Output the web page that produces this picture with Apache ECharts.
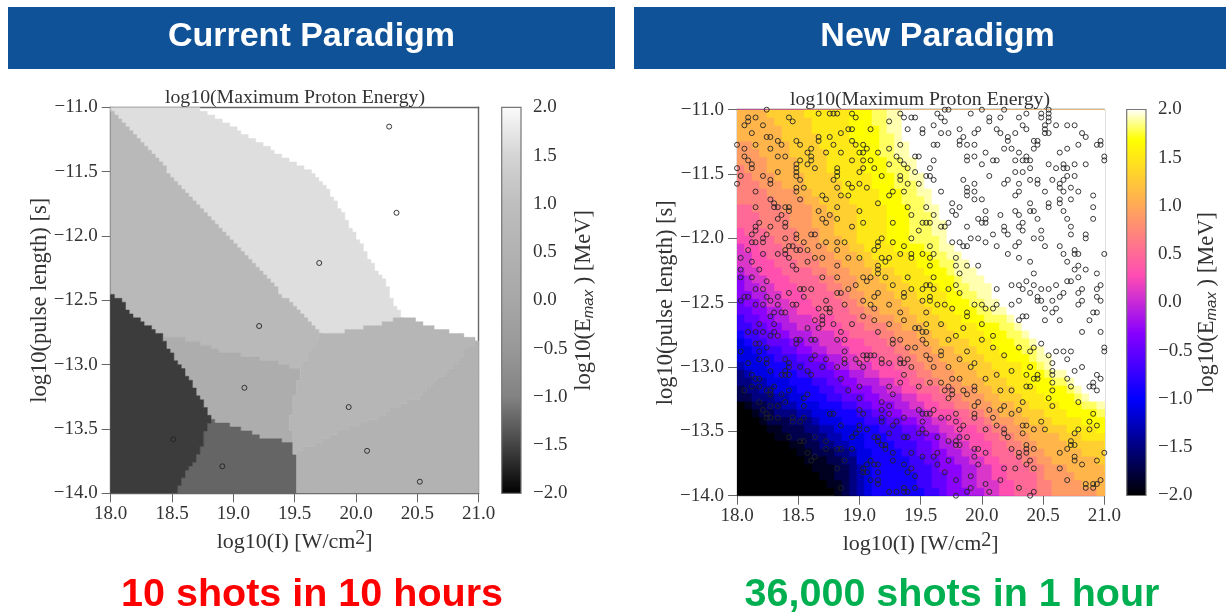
<!DOCTYPE html>
<html><head><meta charset="utf-8">
<style>html,body{margin:0;padding:0;background:#fff}#c{width:1226px;height:615px}</style>
<script src="https://cdn.jsdelivr.net/npm/echarts@6/dist/echarts.min.js"></script>
</head><body><div id="c"></div>
<script>
const xTicksMin=18, xTicksMax=21, yTicksMin=-14, yTicksMax=-11;
const chartTitle='log10(Maximum Proton Energy)';
const yName='log10(pulse length) [s]';
const xName='log10(I) [W/cm{sup|2}]';
const barName='{a|log10(E}{sub|max}{a| ) [MeV]}';

// --- Current paradigm: 10 shots
const oldShotX=[20.27,20.33,19.70,19.21,19.09,18.51,18.91,19.94,20.09,20.52];
const oldShotY=[-11.15,-11.82,-12.21,-12.70,-13.18,-13.58,-13.79,-13.33,-13.67,-13.91];
const regionColors=['#dedede','#b9b9b9','#adadad','#656565','#3c3c3c','#b6b6b6','#b2b2b2'];
const regionLight=[[18,-11],[18.74,-11],[19.54,-11.45],[19.68,-11.53],[19.76,-11.62],[20.01,-12.01],[20.20,-12.29],[20.33,-12.55],[20.40,-12.64],[20.32,-12.65],[20.17,-12.69],[19.89,-12.75],[19.73,-12.77]];
const regionMid=[[18,-11],[19.73,-12.77],[19.56,-13.04],[19.27,-12.96],[18.89,-12.89],[18.66,-12.81],[18.42,-12.77],[18.24,-12.65],[18.08,-12.50],[18,-12.44]];
const regionCentre=[[18.42,-12.77],[18.66,-12.81],[18.89,-12.89],[19.27,-12.96],[19.56,-13.04],[19.50,-13.25],[19.46,-13.45],[19.48,-13.61],[19.40,-13.59],[19.19,-13.55],[19.03,-13.48],[18.83,-13.43],[18.73,-13.25],[18.62,-13.07],[18.48,-12.89]];
const regionDarker=[[18.83,-13.43],[19.03,-13.48],[19.19,-13.55],[19.40,-13.59],[19.48,-13.61],[19.50,-13.70],[19.53,-13.84],[19.53,-14],[18.54,-14],[18.62,-13.84],[18.73,-13.69],[18.78,-13.52]];
const regionDark=[[18,-12.44],[18.08,-12.50],[18.24,-12.65],[18.42,-12.77],[18.48,-12.89],[18.62,-13.07],[18.73,-13.25],[18.83,-13.43],[18.78,-13.52],[18.73,-13.69],[18.62,-13.84],[18.54,-14],[18,-14]];
const regionUpperRight=[[19.73,-12.77],[19.89,-12.75],[20.17,-12.69],[20.32,-12.65],[20.48,-12.65],[20.58,-12.69],[20.70,-12.73],[20.82,-12.75],[20.95,-12.79],[21,-12.81],[20.81,-12.99],[20.55,-13.25],[20.17,-13.41],[19.87,-13.53],[19.50,-13.70],[19.48,-13.61],[19.46,-13.45],[19.50,-13.25],[19.56,-13.04]];
const regionLowerRight=[[19.50,-13.70],[19.87,-13.53],[20.17,-13.41],[20.55,-13.25],[20.81,-12.99],[21,-12.81],[21,-14],[19.53,-14],[19.53,-13.84]];
const regions=[regionLight,regionMid,regionCentre,regionDarker,regionDark,regionUpperRight,regionLowerRight];

// --- New paradigm: iso-value curves; x position of each level at each pulse-length row
const contourRowsY=[-11,-11.25,-11.5,-11.75,-12,-12.25,-12.5,-12.75,-13,-13.25,-13.5,-13.75,-14];
const contourLevels=[-1.95,-1.8,-1.6,-1.4,-1.2,-1,-0.8,-0.6,-0.4,-0.2,0,0.2,0.4,0.6,0.8,1,1.2,1.4,1.6,1.75,1.85,1.95];
const bandValues=[-1.87,-1.7,-1.5,-1.3,-1.1,-0.9,-0.7,-0.5,-0.3,-0.1,0.1,0.3,0.5,0.7,0.9,1.1,1.3,1.5,1.67,1.8,1.9,2];
const contourX=[
[17,17,17,17,17,17,17,17,17.5,18.0,18.27,18.6,18.82],
[17,17,17,17,17,17,17,17,17.7,18.04,18.38,18.76,18.88],
[17,17,17,17,17,17,17,17,17.85,18.16,18.56,18.88,18.94],
[17,17,17,17,17,17,17,17.6,17.97,18.31,18.72,18.98,19.0],
[17,17,17,17,17,17,17,17.8,18.07,18.43,18.83,19.03,19.05],
[17,17,17,17,17,17,17.7,18.0,18.27,18.57,19.03,19.11,19.13],
[17,17,17,17,17,17,17.85,18.07,18.43,18.78,19.19,19.41,19.54],
[17,17,17,17,17,17.7,17.97,18.19,18.57,18.9,19.36,19.57,19.64],
[17,17,17,17,17,17.9,18.07,18.31,18.74,19.03,19.51,19.66,19.74],
[17,17,17,17,17.6,18.0,18.16,18.43,18.84,19.19,19.59,19.81,19.89],
[17,17,17,17,17.85,18.07,18.27,18.6,18.95,19.36,19.7,19.92,20.03],
[17,17,17,17.5,18.0,18.19,18.41,18.78,19.09,19.47,19.81,20.05,20.15],
[17,17,17,17.8,18.1,18.37,18.6,18.95,19.27,19.59,19.96,20.19,20.27],
[17,17,17.7,18.1,18.3,18.58,18.83,19.14,19.43,19.72,20.13,20.38,20.48],
[17,17.6,18.12,18.36,18.5,18.76,18.95,19.31,19.54,19.86,20.23,20.49,20.6],
[17.6,18.1,18.3,18.58,18.66,18.91,19.07,19.47,19.7,20.03,20.35,20.62,20.97],
[18.22,18.42,18.5,18.75,18.82,19.07,19.33,19.62,19.9,20.17,20.53,21.0,21.2],
[18.55,18.67,18.78,18.96,19.0,19.25,19.54,19.81,20.09,20.34,20.72,21.37,21.6],
[18.9,18.95,19.07,19.2,19.2,19.54,19.74,20.0,20.31,20.54,20.97,21.5,21.9],
[19.12,19.15,19.27,19.38,19.42,19.7,19.9,20.2,20.47,20.75,21.25,21.8,22.2],
[19.21,19.27,19.4,19.54,19.63,19.78,20.03,20.35,20.52,20.84,21.46,22,22.5],
[19.31,19.38,19.5,19.63,19.73,19.95,20.15,20.4,20.61,20.92,21.6,22.3,22.8]
];
// shots of the new paradigm sit on a 100x100 lattice: for each lattice row, the lattice columns
const latticeStep=3/99;
const newShotColumns=[
[8,56,57,66,72,84],
[22,25,26,27,31,44,54,63,78,82,84],
[3,5,14,32,45,47,48,55,68,71,76,82,84],
[3,15,41,56,68,84],
[2,7,53,77,83,86,89,91],
[30,31,36,46,50,60,65,70,78,83],
[4,28,50,55,57,64,71,75,83,84,93],
[8,9,22,25,61,73,94],
[11,16,22,31,60,73,80,81,98],
[0,5,12,17,26,32,34,44,53,54,60,62,64,81,92,97,98],
[2,9,20,35,41,72,74,80,89],
[19,24,28,33,34,38,67,76,87],
[2,11,13,20,43,48,49,62,64,78,99],
[3,17,20,31,34,36,44,53,62,69,70,75,77,78,79,99],
[4,16,19,41,45,66,84,88,91,94],
[0,4,16,21,27,34,37,46,52,79,86,88,89],
[11,16,27,33,48,75,77],
[1,7,16,27,39,44,51,52,68,89,91],
[9,17,26,44,53,61,73,79,81,85,88],
[0,9,30,33,46,49,64,72,76,81,87],
[16,18,27,31,35,62,87,90],
[5,16,42,45,55,62,64,76,83,88,92],
[23,28,30,41,62,75,96],
[9,17,24,64,66,87,90],
[10,38,58,79,84,87],
[5,10,11,13,14,27,46,51,60,84,96],
[14,22,33,58,67,75,79,80,88],
[12,25,47,53,59,71,76],
[11,23,27,65,67,81,89,96],
[6,13,24,34,42,50,51,52,57,66,67,77],
[5,9,13,31,55,56,62,72,76,90],
[5,49,72,77,82],
[4,8,16,20,21,69,73,90,94],
[7,13,16,39,47,63,65,80,82,94],
[4,5,7,18,24,27,29,38,42,58,60,67,76],
[14,15,22,38,45,52,61,62,70,75,83,87],
[3,13,16,17,19,27,37,91],
[7,11,13,44,47,50,53,73,88,91,92,99],
[1,14,21,23,30,33,39,41,47,52,59,76],
[4,19,40,79,89],
[15,27,38,52,59,62,65,92],
[1,6,16,38,91,94],
[38,60,80,97],
[1,4,23,27,34,36,40,46,53,92],
[8,35,78,89,90],
[32,42,51,52,59,74,76,80,86,98],
[5,7,17,18,20,30,47,50,53,57,70,77,82,84,93,97],
[14,27,28,38,45,60,79,88,92],
[2,3,8,11,18,37,45,52,81,87,97],
[1,9,24,34,50,52,76,81,82,85,93,98],
[5,7,11,15,16,29,36,41,54,56,64,66,70,74,92],
[22,24,25,37,58,67,69,83,86],
[10,12,13,25,44,51,62,85,96,97],
[9,23,34,62,77,78],
[21,23,37,45,76,83,87,95],
[6,10,23,26,31,41,51,55,66],
[19,22,48,49,61],
[3,5,7,10,28,38,50,51,93,98],
[9,11,59,69],
[16,17,20,21,27,29,42,44,50,57,66],
[5,6,16,42,51,82],
[8,46,48,69,76,80,99],
[1,6,29,55,62,79,86,88,90,99],
[21,34,35,36,37,51,55,72,84],
[6,8,13,20,24,29,32,35,39,44,46,52,60,89],
[3,8,14,29,33,39,41,44,45,64,85],
[14,17,23,27,34,47,53,57,63,79,93],
[9,13,19,74,85,91],
[4,12,13,14,20,45,70,78,81,85,97],
[5,6,28,58,60,67,80,81,89,98],
[44,52,55,85,96],
[4,6,10,33,41,49,57,64,78,79,90,95,96],
[2,8,9,14,30,56,58,61,64,71,74,85,97],
[9,12,19,42,58,62],
[18,33,57,84],
[6,13,39,65,77,92],
[9,11,18,41,64,72,85],
[7,33,39,49,53,68,71,76],
[8,25,26,34,41,50,51,52,59,64,74,96],
[8,9,11,15,18,39,45,55,57,64,69],
[15,17,39,43,50,59,82,95],
[28,33,42,61,70,77,78,97],
[33,35,50,60,67,72,80,83,92,95],
[32,41,49,51,72,77,91],
[14,21,31,37,38,45,46,54,60,62,73],
[17,18,24,38,57,59,90],
[39,40,59,60,78,90,91],
[24,27,28,31,40,64,65,74,78,80,89],
[19,42,47,54,67,76,78,87,99],
[21,50,53,64,76,91],
[20,29,36,42,57,79,91,97],
[35,37,38,45,54,65,78,93],
[27,34,47,72,75,80,87],
[34,35,38,46,56],
[48,63],
[36,38,59,71,89,98],
[38,67,94,96,97],
[28,45,48,63,76,94,96],
[41,43,45,46,62,68,80],
[59,79]
];
// colour bars: [value, ...]
const grayBarStops=[[-2,0],[-1.5,68],[-1.2,105],[-1,130],[-0.5,152],[0,167],[0.5,178],[1,190],[1.5,213],[1.8,235],[2,252]];
const heatBarStops=[[-2,'#000000'],[-1,'#0000ff'],[-0.32,'#8700ff'],[0.28,'#ff4db3'],[1.68,'#ffff00'],[2,'#ffffff']];
const barTicks=0.5;

const serif='"Liberation Serif","Times New Roman",serif';
const textCol='#333333', lineCol='#666666';
const boxes=[
 {left:110.7,top:107.3,width:368,height:386},
 {left:737,top:109.7,width:367.3,height:386},
 {left:501.7,top:107.3,width:19.3,height:386},
 {left:1126.7,top:109.5,width:19.3,height:386}
];
const fmt=v=>v.toFixed(1).replace('-','\u2212');
function hex(c){return [1,3,5].map(i=>parseInt(c.substr(i,2),16));}
function heatColor(v){
  for(let i=1;i<heatBarStops.length;i++){
    const a=heatBarStops[i-1],b=heatBarStops[i];
    if(v<=b[0]){
      const t=(v-a[0])/(b[0]-a[0]),ca=hex(a[1]),cb=hex(b[1]);
      return 'rgb('+ca.map((q,k)=>Math.round(q+(cb[k]-q)*t)).join(',')+')';
    }
  }
  return '#ffffff';
}
// turn each polygon edge into lattice steps; shared edges produce the same path in both polygons
function stairs(verts,step){
  const snap=v=>Math.round(v/step)*step, out=[];
  for(let i=0;i<verts.length;i++){
    let a=verts[i],b=verts[(i+1)%verts.length];
    const rev=a[0]>b[0]||(a[0]===b[0]&&a[1]>b[1]);
    if(rev){const t=a;a=b;b=t;}
    const n=Math.max(1,Math.ceil(Math.max(Math.abs(b[0]-a[0]),Math.abs(b[1]-a[1]))/step));
    const seg=[];
    for(let k=0;k<=n;k++){
      const x=snap(a[0]+(b[0]-a[0])*k/n),y=snap(a[1]+(b[1]-a[1])*k/n);
      if(seg.length)seg.push([seg[seg.length-1][0],y]);
      seg.push([x,y]);
    }
    if(rev)seg.reverse();
    seg.forEach(p=>out.push(p));
  }
  return out;
}
function contourPolygon(xs){
  const s=3/49,pts=[];
  const at=y=>{
    for(let i=1;i<contourRowsY.length;i++){
      if(y>=contourRowsY[i]){
        const t=(y-contourRowsY[i-1])/(contourRowsY[i]-contourRowsY[i-1]);
        return xs[i-1]+(xs[i]-xs[i-1])*t;
      }
    }
    return xs[xs.length-1];
  };
  for(let k=0;k<49;k++){
    const top=-11-k*s,bot=top-s,x=18+Math.round((at((top+bot)/2)-18)/s)*s;
    pts.push([x,top],[x,bot]);
  }
  pts.push([24,-14],[24,-11]);
  return pts;
}
function polySeries(idx,polys,colors){
  return {type:'custom',coordinateSystem:'cartesian2d',xAxisIndex:idx,yAxisIndex:idx,clip:true,silent:true,z:2,
    data:polys.map(p=>p[0]),
    renderItem:(params,api)=>({type:'polygon',
      shape:{points:polys[params.dataIndex].map(p=>api.coord(p))},
      style:{fill:colors[params.dataIndex],stroke:colors[params.dataIndex],lineWidth:0.5}})};
}
function barSeries(idx,stops){
  return {type:'custom',coordinateSystem:'cartesian2d',xAxisIndex:idx,yAxisIndex:idx,silent:true,z:2,
    data:[[0,2]],
    renderItem:(params,api)=>{
      const a=api.coord([0,2]),b=api.coord([1,-2]);
      return {type:'rect',shape:{x:a[0],y:a[1],width:b[0]-a[0],height:b[1]-a[1]},
        style:{fill:{type:'linear',x:0,y:0,x2:0,y2:1,colorStops:stops},stroke:'#777777',lineWidth:1.2}};
    }};
}
function shots(idx,data){
  return {type:'scatter',xAxisIndex:idx,yAxisIndex:idx,data:data,symbol:'circle',symbolSize:5,clip:true,z:5,silent:true,
    itemStyle:{color:'rgba(0,0,0,0)',borderColor:'#222222',borderWidth:0.9,opacity:1}};
}
const newShots=[];
newShotColumns.forEach((row,j)=>row.forEach(i=>newShots.push([xTicksMin+i*latticeStep,yTicksMax-j*latticeStep])));
const oldShots=oldShotX.map((x,i)=>[x,oldShotY[i]]);
const leftPolys=regions.map(r=>stairs(r,latticeStep));

const labelCommon={fontFamily:serif,fontSize:19,color:textCol};
const nameCommon={fontFamily:serif,fontSize:22,color:textCol};
const xAxes=[],yAxes=[];
[0,1].forEach(g=>{
  xAxes.push({gridIndex:g,type:'value',min:xTicksMin,max:xTicksMax,interval:0.5,position:'bottom',
    axisLine:{onZero:false,lineStyle:{color:lineCol,width:1.4}},axisTick:{length:9,lineStyle:{color:lineCol,width:1}},
    axisLabel:{...labelCommon,margin:11,formatter:fmt,showMinLabel:true,showMaxLabel:true},splitLine:{show:false},
    name:xName,nameLocation:'middle',nameGap:35,nameMoveOverlap:false,
    nameTextStyle:{...nameCommon,rich:{sup:{fontFamily:serif,fontSize:20,color:textCol,verticalAlign:'top',padding:[0,0,7,0]}}}});
  yAxes.push({gridIndex:g,type:'value',min:yTicksMin,max:yTicksMax,interval:0.5,position:'left',
    axisLine:{onZero:false,lineStyle:{color:lineCol,width:1.4}},axisTick:{length:9,lineStyle:{color:lineCol,width:1}},
    axisLabel:{...labelCommon,margin:13,formatter:fmt,showMinLabel:true,showMaxLabel:true},splitLine:{show:false},
    name:yName,nameLocation:'middle',nameGap:59,nameRotate:90,nameMoveOverlap:false,nameTextStyle:{...nameCommon,fontSize:22.5}});
});
[2,3].forEach(g=>{
  xAxes.push({gridIndex:g,type:'value',min:0,max:1,show:false});
  yAxes.push({gridIndex:g,type:'value',min:-2,max:2,interval:barTicks,position:'right',
    axisLine:{show:false},axisTick:{show:true,length:8,lineStyle:{color:lineCol,width:1}},
    axisLabel:{...labelCommon,margin:12,formatter:fmt,showMinLabel:true,showMaxLabel:true},splitLine:{show:false},
    name:barName,nameLocation:'middle',nameGap:g===2?52:50,nameRotate:90,nameMoveOverlap:false,
    nameTextStyle:{...nameCommon,rich:{a:{fontFamily:serif,fontSize:22.5,color:textCol},
      sub:{fontFamily:'"Liberation Sans",sans-serif',fontStyle:'italic',fontSize:15,color:textCol,verticalAlign:'bottom'}}}});
});
// top and right frame edges on the heat panels
[0,1].forEach(g=>{
  xAxes.push({gridIndex:g,type:'value',min:xTicksMin,max:xTicksMax,position:'top',
    axisLine:{onZero:false,lineStyle:{color:lineCol,width:1.4}},axisTick:{show:false},axisLabel:{show:false},splitLine:{show:false}});
  yAxes.push({gridIndex:g,type:'value',min:yTicksMin,max:yTicksMax,position:'right',
    axisLine:{onZero:false,lineStyle:{color:lineCol,width:1.4}},axisTick:{show:false},axisLabel:{show:false},splitLine:{show:false}});
});

const toRgb=g=>'rgb('+g+','+g+','+g+')';
const grayStops=grayBarStops.map(s=>({offset:(2-s[0])/4,color:toRgb(s[1])})).reverse();
const heatStops=heatBarStops.map(s=>({offset:(2-s[0])/4,color:s[1]})).reverse();
const banner=(x,w,tx,text)=>[
 {type:'rect',z:10,shape:{x:x,y:7,width:w,height:62},style:{fill:'#0f5298'}},
 {type:'text',z:11,x:tx,y:37,style:{text:text,fill:'#ffffff',font:'bold 34px "Liberation Sans",Arial,sans-serif',textAlign:'center',textVerticalAlign:'middle'}}
];
const caption=(x,text,col)=>({type:'text',z:11,x:x,y:595,style:{text:text,fill:col,font:'bold 39.5px "Liberation Sans",Arial,sans-serif',textAlign:'center',textVerticalAlign:'middle'}});

const chart=echarts.init(document.getElementById('c'),null,{renderer:'canvas'});
chart.setOption({
  animation:false,backgroundColor:'#ffffff',
  title:[
   {text:chartTitle,left:290,top:83,textAlign:'center',textStyle:{fontFamily:serif,fontSize:19.8,fontWeight:'normal',color:textCol}},
   {text:chartTitle,left:915,top:85,textAlign:'center',textStyle:{fontFamily:serif,fontSize:19.8,fontWeight:'normal',color:textCol}}
  ],
  grid:boxes,xAxis:xAxes,yAxis:yAxes,
  series:[
   polySeries(0,leftPolys,regionColors),
   shots(0,oldShots),
   polySeries(1,[[[18,-11],[21,-11],[21,-14],[18,-14]]].concat(contourX.map(contourPolygon)),['#000000'].concat(bandValues.map(heatColor))),
   shots(1,newShots),
   barSeries(2,grayStops),
   barSeries(3,heatStops)
  ],
  graphic:[...banner(8,607,311.5,'Current Paradigm'),...banner(634,592,937.5,'New Paradigm'),
    caption(312,'10 shots in 10 hours','#ff0000'),caption(952,'36,000 shots in 1 hour','#00b050')]
});
</script></body></html>
